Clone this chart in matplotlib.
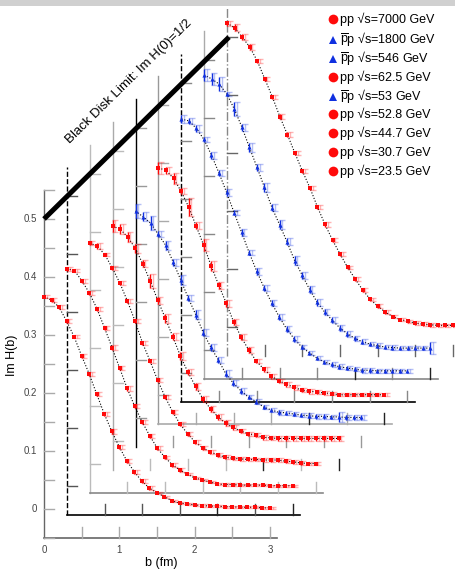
import numpy as np
import matplotlib
matplotlib.use("Agg")
import matplotlib.pyplot as plt
from matplotlib.patches import Rectangle

plt.rcParams['font.family'] = ['Liberation Sans', 'DejaVu Sans']
plt.rcParams['mathtext.fontset'] = 'custom'
plt.rcParams['mathtext.rm'] = 'Liberation Sans'

# impact parameter grid (fm)
B = [0.0, 0.1, 0.2, 0.3, 0.4, 0.5, 0.6, 0.7, 0.8, 0.9, 1.0,
     1.1, 1.2, 1.3, 1.4, 1.5, 1.6, 1.7, 1.8, 1.9, 2.0,
     2.1, 2.2, 2.3, 2.4, 2.5, 2.6, 2.7, 2.8, 2.9, 3.0]

# Im H(b) for each energy (front to back)
V_235 = [0.366, 0.360, 0.348, 0.324, 0.297, 0.264, 0.233, 0.198, 0.164, 0.134, 0.107,
         0.083, 0.064, 0.048, 0.036, 0.028, 0.021, 0.014, 0.010, 0.009, 0.007,
         0.006, 0.005, 0.005, 0.004, 0.004, 0.003, 0.003, 0.003, 0.002, 0.002]
V_307 = [0.375, 0.372, 0.354, 0.333, 0.306, 0.273, 0.239, 0.204, 0.169, 0.138, 0.111,
         0.087, 0.066, 0.050, 0.037, 0.028, 0.021, 0.014, 0.011, 0.007, 0.004,
         0.003, 0.003, 0.002, 0.002, 0.002, 0.002, 0.001, 0.001, 0.001, 0.001]
V_447 = [0.380, 0.375, 0.360, 0.337, 0.311, 0.280, 0.246, 0.208, 0.177, 0.144, 0.115,
         0.089, 0.068, 0.051, 0.037, 0.027, 0.020, 0.015, 0.011, 0.009, 0.008,
         0.007, 0.007, 0.006, 0.006, 0.006, 0.004, 0.003, 0.001, 0.000, 0.000]
V_528 = [0.370, 0.365, 0.351, 0.332, 0.305, 0.275, 0.242, 0.211, 0.179, 0.146, 0.118,
         0.094, 0.072, 0.055, 0.041, 0.030, 0.023, 0.017, 0.012, 0.010, 0.006,
         0.005, 0.004, 0.004, 0.004, 0.004, 0.004, 0.004, 0.004, 0.004, 0.004]
V_53 = [0.357, 0.347, 0.336, 0.317, 0.298, 0.269, 0.238, 0.207, 0.178, 0.147, 0.122,
        0.100, 0.076, 0.060, 0.047, 0.036, 0.028, 0.019, 0.014, 0.010, 0.009,
        0.007, 0.005, 0.004, 0.003, 0.003, 0.002, 0.002, 0.001, 0.001, 0.001]
V_625 = [0.392, 0.388, 0.374, 0.352, 0.325, 0.292, 0.259, 0.223, 0.190, 0.159, 0.126,
         0.100, 0.078, 0.059, 0.045, 0.033, 0.025, 0.019, 0.014, 0.009, 0.007,
         0.006, 0.004, 0.003, 0.001, 0.001, 0.001, 0.001, 0.001, 0.001, 0.001]
V_546 = [0.437, 0.434, 0.421, 0.402, 0.375, 0.344, 0.311, 0.276, 0.242, 0.207, 0.175,
         0.146, 0.120, 0.096, 0.075, 0.058, 0.044, 0.034, 0.025, 0.018, 0.014,
         0.010, 0.008, 0.006, 0.004, 0.004, 0.003, 0.003, 0.003, 0.003, 0.003]
V_1800 = [0.474, 0.467, 0.458, 0.441, 0.415, 0.384, 0.349, 0.315, 0.280, 0.245, 0.216,
          0.186, 0.154, 0.129, 0.104, 0.082, 0.065, 0.051, 0.038, 0.028, 0.020,
          0.014, 0.010, 0.007, 0.005, 0.004, 0.003, 0.003, 0.003, 0.003, 0.003]
V_7000 = [0.524, 0.516, 0.500, 0.483, 0.459, 0.428, 0.397, 0.363, 0.332, 0.300, 0.269,
          0.240, 0.207, 0.177, 0.150, 0.126, 0.103, 0.083, 0.064, 0.048, 0.036,
          0.026, 0.018, 0.013, 0.010, 0.007, 0.005, 0.004, 0.003, 0.003, 0.003]

# error bars
E_235 = [0.003, 0.003, 0.004, 0.003, 0.003, 0.004, 0.003, 0.003, 0.004, 0.004, 0.004,
         0.003, 0.003, 0.003, 0.003, 0.002, 0.002, 0.002, 0.002, 0.002, 0.002,
         0.002, 0.002, 0.002, 0.002, 0.002, 0.002, 0.002, 0.002, 0.002, 0.002]
E_307 = [0.003, 0.003, 0.003, 0.004, 0.003, 0.003, 0.004, 0.003, 0.004, 0.003, 0.003,
         0.003, 0.003, 0.003, 0.003, 0.003, 0.002, 0.002, 0.002, 0.002, 0.002,
         0.002, 0.002, 0.002, 0.002, 0.002, 0.002, 0.002, 0.002, 0.002, 0.002]
E_447 = [0.003, 0.005, 0.003, 0.004, 0.003, 0.004, 0.004, 0.003, 0.004, 0.003, 0.004,
         0.003, 0.004, 0.003, 0.004, 0.003, 0.003, 0.003, 0.003, 0.003, 0.003,
         0.003, 0.003, 0.003, 0.003, 0.003, 0.003, 0.003, 0.003, 0.003, 0.003]
E_528 = [0.010, 0.008, 0.009, 0.008, 0.006, 0.012, 0.006, 0.008, 0.006, 0.007, 0.005,
         0.006, 0.005, 0.005, 0.005, 0.005, 0.004, 0.004, 0.004, 0.004, 0.004,
         0.004, 0.004, 0.004, 0.004, 0.004, 0.004, 0.004, 0.004, 0.004, 0.004]
E_53 = [0.012, 0.008, 0.012, 0.005, 0.008, 0.006, 0.008, 0.006, 0.008, 0.006, 0.006,
        0.005, 0.006, 0.005, 0.005, 0.004, 0.004, 0.004, 0.004, 0.004, 0.004,
        0.004, 0.004, 0.004, 0.004, 0.004, 0.004, 0.008, 0.004, 0.004, 0.004]
E_625 = [0.010, 0.006, 0.010, 0.005, 0.016, 0.006, 0.010, 0.008, 0.006, 0.006, 0.005,
         0.005, 0.005, 0.004, 0.004, 0.004, 0.004, 0.004, 0.004, 0.004, 0.004,
         0.004, 0.003, 0.003, 0.003, 0.003, 0.003, 0.003, 0.003, 0.003, 0.003]
E_546 = [0.007, 0.005, 0.006, 0.004, 0.006, 0.005, 0.006, 0.005, 0.006, 0.005, 0.006,
         0.005, 0.006, 0.005, 0.005, 0.005, 0.004, 0.004, 0.004, 0.004, 0.004,
         0.004, 0.004, 0.004, 0.004, 0.004, 0.004, 0.004, 0.004, 0.004, 0.004]
E_1800 = [0.011, 0.010, 0.012, 0.004, 0.012, 0.006, 0.008, 0.006, 0.008, 0.006, 0.008,
          0.006, 0.008, 0.006, 0.006, 0.006, 0.005, 0.005, 0.005, 0.005, 0.004,
          0.004, 0.004, 0.004, 0.004, 0.004, 0.004, 0.004, 0.004, 0.004, 0.010]
E_7000 = [0.004, 0.006, 0.005, 0.005, 0.004, 0.004, 0.004, 0.004, 0.004, 0.004, 0.004,
          0.004, 0.004, 0.004, 0.003, 0.003, 0.003, 0.003, 0.003, 0.003, 0.003,
          0.003, 0.003, 0.003, 0.003, 0.003, 0.003, 0.003, 0.003, 0.003, 0.003]

LABELS = ["pp √s=23.5 GeV", "pp √s=30.7 GeV", "pp √s=44.7 GeV", "pp √s=52.8 GeV",
          r"$\overline{\mathrm{p}}$p √s=53 GeV", "pp √s=62.5 GeV",
          r"$\overline{\mathrm{p}}$p √s=546 GeV", r"$\overline{\mathrm{p}}$p √s=1800 GeV",
          "pp √s=7000 GeV"]
SERIES = [V_235, V_307, V_447, V_528, V_53, V_625, V_546, V_1800, V_7000]
ERRORS = [E_235, E_307, E_447, E_528, E_53, E_625, E_546, E_1800, E_7000]
IS_PBAR = [False, False, False, False, True, False, True, True, False]

RED = '#ff0a0a'
BLUE = '#1030e0'

# layer offset of the waterfall (fm, Im H units)
DX, DY = 0.304, 0.0392

fig = plt.figure(figsize=(4.55, 5.70), dpi=100)
ax = fig.add_axes([0, 0, 1, 1])
ax.set_xlim(-44 / 75.3, (455 - 44) / 75.3)
ax.set_ylim((509 - 570) / 580, 509 / 580)
ax.axis('off')

tx = 10 / 75.3   # tick length along x
ty = 11 / 580    # tick length along y

# frame styles per layer: spine colour, spine style, bottom colour (None = hidden)
frame_style = [('#666666', '-', '#666666'), ('black', '--', 'black'),
               ('#bbbbbb', '-', '#888888'), ('#aaaaaa', '-', None),
               ('black', '-', None), ('#999999', '-', '#aaaaaa'),
               ('black', '--', 'black'), ('#aaaaaa', '-', '#888888'),
               ('#888888', '-.', None)]
tick_cols = ['#aaaaaa', '#555555', '#bbbbbb', '#bbbbbb', '#999999',
             '#aaaaaa', '#888888', '#888888', '#666666']

for k, (sc, ls, bc) in enumerate(frame_style):
    ox, oy = k * DX, k * DY
    ax.plot([ox, ox], [oy - 0.05, oy + 0.55], color=sc, ls=ls, lw=1.0, zorder=1)
    if bc is not None:
        ax.plot([ox, ox + 3.1], [oy - 0.05, oy - 0.05], color=bc, lw=1.2, zorder=1)
    ystep = np.arange(-0.05, 0.56, 0.05) if k == 0 else np.arange(0, 0.51, 0.1)
    for yt in ystep:
        ax.plot([ox, ox + tx], [oy + yt, oy + yt], color=tick_cols[k], lw=1.0, zorder=1)
    for j, xt in enumerate(np.arange(0.5, 3.01, 0.5)):
        c = '#222222' if xt in (2.0, 3.0) and k % 2 == 1 else tick_cols[k]
        ax.plot([ox + xt, ox + xt], [oy - 0.05, oy - 0.05 + ty], color=c, lw=1.0, zorder=1)

# black disk limit
ax.plot([0, 8 * DX + 0.025], [0.5, 0.5 + 8 * DY], color='black', lw=3.6,
        solid_capstyle='butt', zorder=6)
ax.text((129 - 44) / 75.3, (509 - 82) / 580, "Black Disk Limit: Im H(0)=1/2",
        rotation=44.5, ha='center', va='center', fontsize=9.5, zorder=6)

# curves, back layer first
bb = np.array(B)
for k in range(len(SERIES) - 1, -1, -1):
    v = np.array(SERIES[k])
    e = np.array(ERRORS[k])
    col = BLUE if IS_PBAR[k] else RED
    mk = '^' if IS_PBAR[k] else 's'
    x = bb + k * DX
    y = v + k * DY
    z = 3 + (len(SERIES) - k) * 0.1
    ax.plot(x, y, ':', color='black', lw=0.8, zorder=z)
    ax.errorbar(x + 0.035, y, yerr=e, fmt='none', ecolor=col, alpha=0.3,
                capsize=2.2, elinewidth=1, capthick=1, zorder=z)
    ax.errorbar(x, y, yerr=e, fmt=mk, color=col, ms=3, mew=0, ecolor=col,
                capsize=2.2, elinewidth=1, capthick=1, zorder=z + 0.05)

# axis labels
for yv in [0, 0.1, 0.2, 0.3, 0.4, 0.5]:
    ax.text(-7 / 75.3, yv, f"{yv:g}", ha='right', va='center', fontsize=7, color='#444444')
for xv in [0, 1, 2, 3]:
    ax.text(xv, -0.07, str(xv), ha='center', va='center', fontsize=7, color='#444444')
ax.text((161 - 44) / 75.3, (509 - 563) / 580, "b (fm)", ha='center', va='center', fontsize=9)
ax.text(-32 / 75.3, (509 - 355) / 580, "Im H(b)", ha='center', va='center',
        rotation=90, fontsize=9)

# overlay in pixel units for header and legend
ov = fig.add_axes([0, 0, 1, 1], zorder=10)
ov.set_xlim(0, 455)
ov.set_ylim(570, 0)
ov.axis('off')
ov.patch.set_alpha(0)
ov.add_patch(Rectangle((0, 0), 455, 6, color='#d0d0d0', lw=0))
leg_y = [19, 39, 58, 77, 96, 114, 133, 152, 171]
for i, k in enumerate(range(len(SERIES) - 1, -1, -1)):
    if IS_PBAR[k]:
        ov.plot(333, leg_y[i] + 1, '^', color=BLUE, ms=6, mew=0)
    else:
        ov.plot(333, leg_y[i], 'o', color=RED, ms=7, mew=0)
    ov.text(340, leg_y[i], LABELS[k], ha='left', va='center', fontsize=9)

fig.savefig('out.png', dpi=100)
